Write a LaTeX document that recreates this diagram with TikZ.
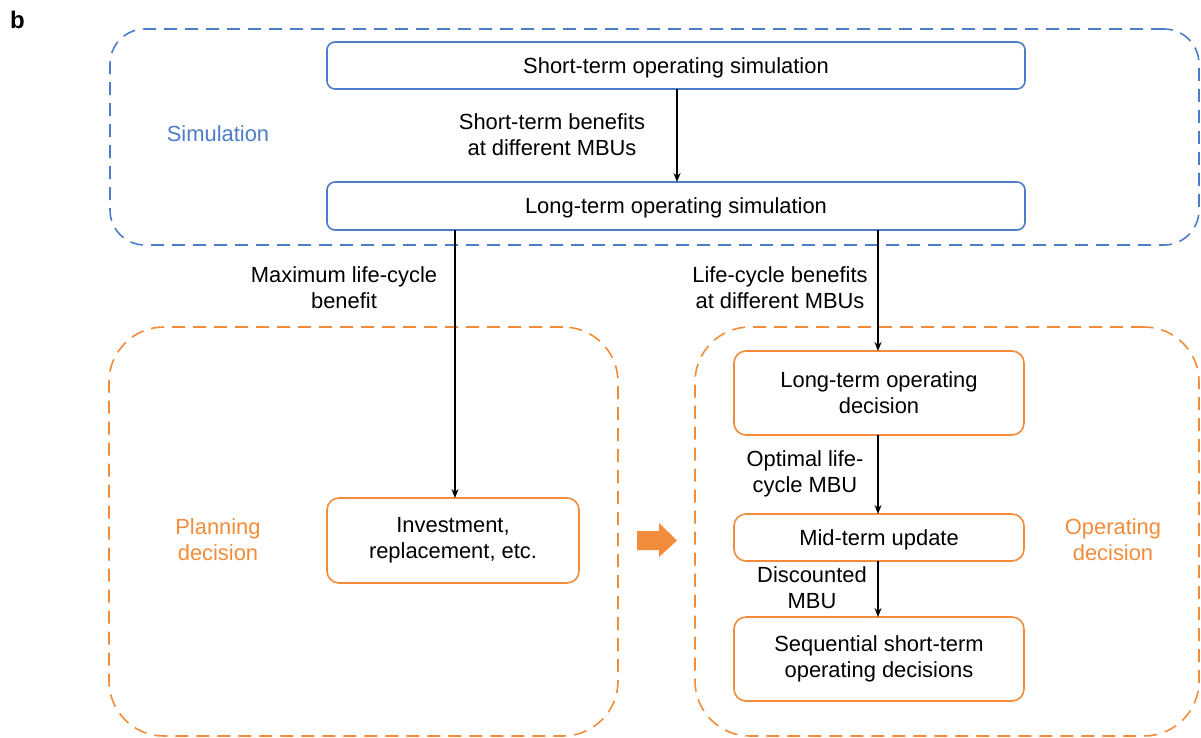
\documentclass[tikz,border=0pt]{standalone}
\usepackage{fontspec}
\setmainfont{Liberation Sans}
\usetikzlibrary{arrows.meta}
\definecolor{simblue}{HTML}{4D7CC8}
\definecolor{decorange}{HTML}{F28C3A}
\begin{document}
\begin{tikzpicture}[x=1pt,y=-1pt,
  every node/.style={font=\fontsize{21.9}{26}\selectfont, inner sep=0pt, outer sep=0pt},
  bluebox/.style={draw=simblue, line width=1.6pt, rounded corners=8pt},
  orbox/.style={draw=decorange, line width=1.6pt, rounded corners=12pt},
  oneline/.style={text height=15.6pt, text depth=0pt},
  bluegrp/.style={draw=simblue, line width=1.6pt, dash pattern=on 13pt off 8pt, rounded corners=35pt},
  orgrp/.style={draw=decorange, line width=1.6pt, dash pattern=on 13pt off 8pt, rounded corners=55pt},
  flow/.style={draw=black, line width=1.4pt, -{Stealth[length=9pt,width=7pt]}},
  lbl/.style={align=center, text=black},
  grplbl/.style={align=center}
]
\useasboundingbox (0,0) rectangle (1201,738);
% groups
\node[bluegrp, minimum width=1089pt, minimum height=216pt] (simgrp) at (654.5,137) {};
\node[orgrp, minimum width=509pt, minimum height=409pt] (plangrp) at (363.5,531.5) {};
\node[orgrp, minimum width=504pt, minimum height=409pt] (opgrp) at (947,531.5) {};
% panel label
\node[font=\fontsize{24}{26}\selectfont\bfseries] (panel) at (17.5,20) {b};
% group labels
\node[grplbl, text=simblue] (simlbl) at (218,134) {Simulation};
\node[grplbl, text=decorange] (planlbl) at (218,540) {Planning\\decision};
\node[grplbl, text=decorange] (oplbl) at (1113,540) {Operating\\decision};
% boxes
\node[bluebox, oneline, minimum width=698pt, minimum height=47pt] (short) at (676,65.5) {Short-term operating simulation};
\node[bluebox, oneline, minimum width=698pt, minimum height=48pt] (longsim) at (676,206) {Long-term operating simulation};
\node[orbox, minimum width=252pt, minimum height=85pt, align=center] (inv) at (453,540.5) {Investment,\\replacement, etc.};
\node[orbox, minimum width=290pt, minimum height=84pt, align=center] (ltd) at (879,393) {Long-term operating\\decision};
\node[orbox, oneline, minimum width=290pt, minimum height=47pt] (mid) at (879,537.5) {Mid-term update};
\node[orbox, minimum width=290pt, minimum height=84pt, align=center] (seq) at (879,659) {Sequential short-term\\operating decisions};
% connectors
\draw[flow] (short.south -| 677,0) -- (longsim.north -| 677,0);
\draw[flow] (longsim.south -| 455,0) -- (inv.north -| 455,0);
\draw[flow] (longsim.south -| 878,0) -- (ltd.north -| 878,0);
\draw[flow] (ltd.south -| 878,0) -- (mid.north -| 878,0);
\draw[flow] (mid.south -| 878,0) -- (seq.north -| 878,0);
% connector labels
\node[lbl] (l1) at (552,134.5) {Short-term benefits\\at different MBUs};
\node[lbl] (l2) at (344,287.5) {Maximum life-cycle\\benefit};
\node[lbl] (l3) at (780,287.5) {Life-cycle benefits\\at different MBUs};
\node[lbl] (l4) at (805,473.5) {Optimal life-\\cycle MBU};
\node[lbl] (l5) at (812,587.5) {Discounted\\MBU};
% orange transition arrow
\fill[decorange] (637,531) -- (659,531) -- (659,523) -- (677,540.5) -- (659,557) -- (659,550) -- (637,550) -- cycle;
\end{tikzpicture}
\end{document}
